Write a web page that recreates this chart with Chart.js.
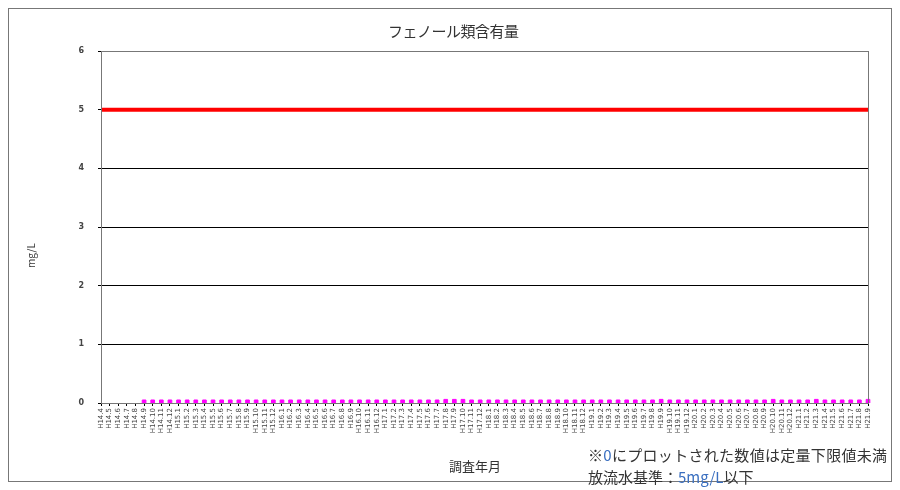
<!DOCTYPE html>
<html>
<head>
<meta charset="utf-8">
<script src="https://cdn.jsdelivr.net/npm/chart.js@4"></script>
<style>
  body { margin: 0; background: #fff; font-family: "Noto Sans CJK JP", sans-serif; }
  #wrap { position: relative; width: 900px; height: 490px; }
  #frame { position: absolute; left: 8px; top: 8px; width: 884px; height: 474px; border: 1px solid #777; box-sizing: border-box; }
  .txt { position: absolute; color: #333; white-space: nowrap; }
</style>
</head>
<body>
<div id="wrap">
  <div id="frame"></div>
  <canvas id="phenolChart" width="900" height="490"></canvas>
  <div class="txt" style="left:388px; top:20px; font-size:15px; letter-spacing:-0.5px;">フェノール類含有量</div>
  <div class="txt" style="left:18px; top:248px; font-size:10px; transform:rotate(-90deg);">mg/L</div>
  <div class="txt" style="left:449px; top:456px; font-size:13px;">調査年月</div>
  <div class="txt" style="left:588px; top:444px; font-size:15px; letter-spacing:0.3px;">※<span style="color:#3a6fc0">0</span>にプロットされた数値は定量下限値未満</div>
  <div class="txt" style="left:588px; top:466px; font-size:15px;">放流水基準：<span style="color:#3a6fc0">5mg/L</span>以下</div>
</div>
<script>
// 調査年月
const labels = [
  "H14.4","H14.5","H14.6","H14.7","H14.8","H14.9","H14.10","H14.11","H14.12",
  "H15.1","H15.2","H15.3","H15.4","H15.5","H15.6","H15.7","H15.8","H15.9","H15.10","H15.11","H15.12",
  "H16.1","H16.2","H16.3","H16.4","H16.5","H16.6","H16.7","H16.8","H16.9","H16.10","H16.11","H16.12",
  "H17.1","H17.2","H17.3","H17.4","H17.5","H17.6","H17.7","H17.8","H17.9","H17.10","H17.11","H17.12",
  "H18.1","H18.2","H18.3","H18.4","H18.5","H18.6","H18.7","H18.8","H18.9","H18.10","H18.11","H18.12",
  "H19.1","H19.2","H19.3","H19.4","H19.5","H19.6","H19.7","H19.8","H19.9","H19.10","H19.11","H19.12",
  "H20.1","H20.2","H20.3","H20.4","H20.5","H20.6","H20.7","H20.8","H20.9","H20.10","H20.11","H20.12",
  "H21.1","H21.2","H21.3","H21.4","H21.5","H21.6","H21.7","H21.8","H21.9"
];

// フェノール類 (mg/L)
const phenol = [
  null,null,null,null,null,0.02,0.02,0.02,0.02,
  0.02,0.02,0.02,0.02,0.02,0.02,0.02,0.02,0.02,0.02,0.02,0.02,
  0.02,0.02,0.02,0.02,0.02,0.02,0.02,0.02,0.02,0.02,0.02,0.02,
  0.02,0.02,0.02,0.02,0.02,0.02,0.02,0.03,0.03,0.03,0.02,0.02,
  0.02,0.02,0.02,0.02,0.02,0.02,0.02,0.02,0.02,0.02,0.02,0.02,
  0.02,0.02,0.02,0.02,0.02,0.02,0.02,0.02,0.03,0.02,0.02,0.02,
  0.02,0.02,0.02,0.02,0.02,0.02,0.02,0.02,0.02,0.03,0.02,0.02,
  0.02,0.02,0.03,0.02,0.02,0.02,0.02,0.02,0.03
];

// 放流水基準
const standard = [
  5,5,5,5,5,5,5,5,5,
  5,5,5,5,5,5,5,5,5,5,5,5,
  5,5,5,5,5,5,5,5,5,5,5,5,
  5,5,5,5,5,5,5,5,5,5,5,5,
  5,5,5,5,5,5,5,5,5,5,5,5,
  5,5,5,5,5,5,5,5,5,5,5,5,
  5,5,5,5,5,5,5,5,5,5,5,5,
  5,5,5,5,5,5,5,5,5
];

const yTicks = [0, 1, 2, 3, 4, 5, 6];

const plotBorder = {
  id: 'plotBorder',
  afterDraw(chart) {
    const a = chart.chartArea, c = chart.ctx;
    c.save();
    c.strokeStyle = '#777';
    c.lineWidth = 1;
    c.strokeRect(a.left + 0.5, a.top + 0.5, a.right - a.left, a.bottom - a.top);
    c.restore();
  }
};

var ctx = document.getElementById('phenolChart').getContext('2d');
var myChart = new Chart(ctx, {
  type: 'line',
  data: {
    labels: labels,
    datasets: [{
      label: '放流水基準',
      data: standard,
      borderColor: '#ff0000',
      borderWidth: 4,
      pointRadius: 0,
      fill: false
    }, {
      label: 'フェノール類',
      data: phenol,
      showLine: false,
      pointStyle: 'rect',
      pointRadius: 2.6,
      backgroundColor: '#ff00ff',
      borderColor: '#ff00ff'
    }]
  },
  options: {
    responsive: false,
    animation: false,
    layout: { padding: { top: 51, right: 32, left: 0, bottom: 0 } },
    plugins: { legend: { display: false }, tooltip: { enabled: false } },
    scales: {
      x: {
        offset: false,
        grid: { display: true, drawOnChartArea: false, color: '#000', tickLength: 3 },
        border: { color: '#777' },
        ticks: {
          autoSkip: false,
          maxRotation: 90,
          minRotation: 90,
          color: '#444',
          font: { size: 7, family: 'DejaVu Sans' },
          padding: 2
        },
        afterFit(scale) { scale.height = 87; }
      },
      y: {
        min: 0,
        max: 6,
        afterBuildTicks(scale) { scale.ticks = yTicks.map(v => ({ value: v })); },
        grid: { color: '#000', drawTicks: true, tickLength: 3 },
        border: { color: '#777' },
        ticks: {
          color: '#444',
          font: { size: 8, weight: 'bold', family: 'DejaVu Sans' },
          padding: 14
        },
        afterFit(scale) { scale.width = 101; }
      }
    }
  },
  plugins: [plotBorder]
});
</script>
</body>
</html>
